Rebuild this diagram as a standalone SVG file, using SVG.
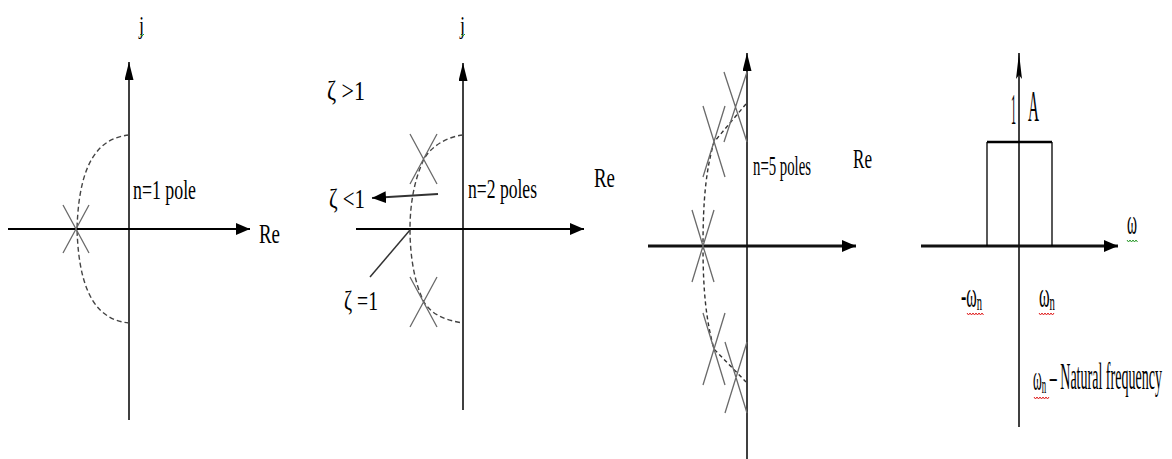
<svg xmlns="http://www.w3.org/2000/svg" width="1172" height="459" viewBox="0 0 1172 459">
<style>
.t{font-family:"Liberation Serif","Times New Roman",serif;fill:#000}
.ax{stroke:#000;stroke-width:1.5;fill:none}
.axb{stroke:#000;stroke-width:2.2;fill:none}
.axc{stroke:#111;stroke-width:3;fill:none}
.pole{stroke:#6a6a6a;stroke-width:1.3;fill:none}
.dash{stroke:#444;stroke-width:1.4;fill:none;stroke-dasharray:5 3}
.dash5{stroke:#333;stroke-width:1.4;fill:none;stroke-dasharray:4 3}
.sq-r{stroke:#e02020;stroke-width:1;fill:none}
.sq-g{stroke:#2a9a2a;stroke-width:1;fill:none}
</style>
<defs>
<marker id="ah" markerUnits="userSpaceOnUse" viewBox="0 0 14 12" markerWidth="14" markerHeight="12" refX="14" refY="6" orient="auto">
<path d="M0,0 L14,6 L0,12 z" fill="#000"/>
</marker>
<marker id="ahv" markerUnits="userSpaceOnUse" viewBox="0 0 18 9" markerWidth="18" markerHeight="9" refX="18" refY="4.5" orient="auto">
<path d="M0,0 L18,4.5 L0,9 z" fill="#000"/>
</marker>
<marker id="ahn" markerUnits="userSpaceOnUse" viewBox="0 0 26 6" markerWidth="26" markerHeight="6" refX="26" refY="3" orient="auto">
<path d="M0,0 L26,3 L0,6 L4,3 z" fill="#000"/>
</marker>
</defs>

<g id="connectors">
<line class="ax" x1="129" y1="420" x2="129" y2="62" marker-end="url(#ahv)"/>
<line class="axb" x1="8" y1="229" x2="250" y2="229" marker-end="url(#ah)"/>
<line class="ax" x1="463" y1="410" x2="463" y2="63" marker-end="url(#ahv)"/>
<line class="axb" x1="356" y1="229" x2="584" y2="229" marker-end="url(#ah)"/>
<line x1="438" y1="194" x2="372" y2="198" stroke="#333" stroke-width="2" marker-end="url(#ah)"/>
<line x1="410" y1="230" x2="370" y2="277" stroke="#333" stroke-width="1.5"/>
<line class="ax" x1="747" y1="459" x2="747" y2="53" marker-end="url(#ahv)"/>
<line class="axc" x1="648" y1="246" x2="856" y2="246" marker-end="url(#ah)"/>
<line class="ax" x1="1019" y1="427" x2="1019" y2="53" marker-end="url(#ahn)"/>
<line class="axc" x1="921" y1="246" x2="1118" y2="246" marker-end="url(#ah)"/>
</g>

<g id="panel1">
<path class="dash" d="M129,135 C100,138 79,160 77,229 C79,298 100,320 129,323"/>
<path class="pole" d="M63,205 L89,253 M89,205 L63,253"/>
<text class="t" x="139" y="34" font-size="26" textLength="5" lengthAdjust="spacingAndGlyphs">j</text>
<path class="sq-g" d="M140,34 l2,2 l2,-2"/>
<text class="t" x="133" y="199" font-size="28" textLength="63" lengthAdjust="spacingAndGlyphs">n=1 pole</text>
<text class="t" x="259" y="243" font-size="28" textLength="21" lengthAdjust="spacingAndGlyphs">Re</text>
</g>

<g id="panel2">
<path class="dash" d="M463,135 C445,137 430,148 424,159 C414,180 410,205 410,229 C410,255 414,282 424,302 C432,315 445,320 463,323"/>
<path class="pole" d="M410,134 L437,184 M437,134 L410,184"/>
<path class="pole" d="M410,277 L437,327 M437,277 L410,327"/>
<text class="t" x="460" y="34" font-size="26" textLength="5" lengthAdjust="spacingAndGlyphs">j</text>
<path class="sq-g" d="M461,34 l2,2 l2,-2"/>
<text class="t" x="327" y="100" font-size="28" textLength="38" lengthAdjust="spacingAndGlyphs">ζ &gt;1</text>
<text class="t" x="329" y="208" font-size="28" textLength="36" lengthAdjust="spacingAndGlyphs">ζ &lt;1</text>
<text class="t" x="344" y="310" font-size="28" textLength="34" lengthAdjust="spacingAndGlyphs">ζ =1</text>
<text class="t" x="468" y="198" font-size="28" textLength="69" lengthAdjust="spacingAndGlyphs">n=2 poles</text>
<text class="t" x="594" y="187" font-size="28" textLength="21" lengthAdjust="spacingAndGlyphs">Re</text>
</g>

<g id="panel3">
<path class="dash5" d="M746,104 L714,142 C706,170 703,200 703,246 C703,290 706,320 714,349 L746,382"/>
<path class="pole" d="M724,72 L747,142 M747,72 L724,142"/>
<path class="pole" d="M703,106 L725,177 M725,106 L703,177"/>
<path class="pole" d="M692,210 L714,282 M714,210 L692,282"/>
<path class="pole" d="M703,313 L725,385 M725,313 L703,385"/>
<path class="pole" d="M725,342 L747,413 M747,342 L725,413"/>
<text class="t" x="753" y="175" font-size="27" textLength="58" lengthAdjust="spacingAndGlyphs">n=5 poles</text>
<text class="t" x="853" y="168" font-size="28" textLength="19" lengthAdjust="spacingAndGlyphs">Re</text>
</g>

<g id="panel4">
<path d="M987,246 L987,142 M1052,142 L1052,246" stroke="#000" stroke-width="1.3" fill="none"/>
<line x1="987" y1="142" x2="1052" y2="142" stroke="#000" stroke-width="2.6"/>
<text class="t" x="1011" y="124" font-size="44" textLength="5" lengthAdjust="spacingAndGlyphs">1</text>
<text class="t" x="1028" y="121" font-size="44" textLength="11" lengthAdjust="spacingAndGlyphs">A</text>
<text class="t" x="1127" y="234" font-size="36" textLength="10" lengthAdjust="spacingAndGlyphs">ω</text>
<path class="sq-g" d="M1127,240 l1.5,2 l1.5,-2 l1.5,2 l1.5,-2 l1.5,2 l1.5,-2 l1.5,2"/>
<text class="t" x="961" y="307" font-size="36" textLength="21" lengthAdjust="spacingAndGlyphs">-ω<tspan font-size="24" dy="3">n</tspan></text>
<path class="sq-r" d="M967,313 l1.5,2 l1.5,-2 l1.5,2 l1.5,-2 l1.5,2 l1.5,-2 l1.5,2 l1.5,-2 l1.5,2 l1.5,-2 l1.5,2"/>
<text class="t" x="1039" y="307" font-size="36" textLength="16" lengthAdjust="spacingAndGlyphs">ω<tspan font-size="24" dy="3">n</tspan></text>
<path class="sq-r" d="M1039,313 l1.5,2 l1.5,-2 l1.5,2 l1.5,-2 l1.5,2 l1.5,-2 l1.5,2 l1.5,-2 l1.5,2 l1.5,-2"/>
<text class="t" x="1033" y="390" font-size="36" textLength="129" lengthAdjust="spacingAndGlyphs">ω<tspan font-size="24" dy="3">n</tspan><tspan font-size="38" dy="-4"> – Natural frequency</tspan></text>
<path class="sq-r" d="M1034,397 l1.5,2 l1.5,-2 l1.5,2 l1.5,-2 l1.5,2 l1.5,-2 l1.5,2 l1.5,-2 l1.5,2 l1.5,-2"/>
</g>
</svg>
